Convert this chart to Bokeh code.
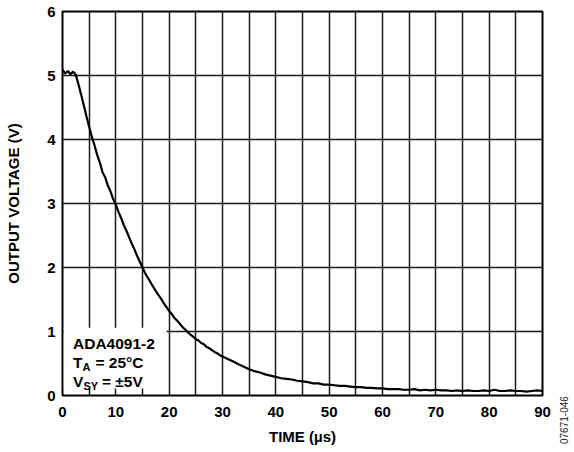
from bokeh.plotting import figure
from bokeh.models import Range1d, FixedTicker, Label, BoxAnnotation, Div
from bokeh.layouts import row
from bokeh.embed import file_html
from bokeh.resources import INLINE

# ---- data ----
time_us = [0, 0.5, 1, 1.5, 2, 2.5, 3, 3.5, 4, 4.5, 5, 5.5, 6, 6.5, 7, 7.5, 8, 8.5, 9, 9.5,
           10, 10.5, 11, 11.5, 12, 12.5, 13, 13.5, 14, 14.5, 15, 15.5, 16, 16.5, 17, 17.5,
           18, 18.5, 19, 19.5, 20, 20.5, 21, 21.5, 22, 22.5, 23, 23.5, 24, 24.5, 25, 25.5,
           26, 26.5, 27, 27.5, 28, 28.5, 29, 29.5, 30,
           31, 32, 33, 34, 35, 36, 37, 38, 39, 40, 41, 42, 43, 44, 45, 46, 47, 48, 49, 50,
           51, 52, 53, 54, 55, 56, 57, 58, 59, 60, 61, 62, 63, 64, 65, 66, 67, 68, 69, 70,
           71, 72, 73, 74, 75, 76, 77, 78, 79, 80, 81, 82, 83, 84, 85, 86, 87, 88, 89, 90]
output_v = [5.09, 5.03, 5.07, 5.02, 5.06, 5.01, 4.86, 4.70, 4.53, 4.36, 4.20, 4.04, 3.91, 3.76,
            3.64, 3.49, 3.41, 3.28, 3.19, 3.07, 2.98, 2.87, 2.77, 2.66, 2.57, 2.47, 2.37, 2.28,
            2.18, 2.09, 2.00, 1.91, 1.84, 1.77, 1.70, 1.63, 1.57, 1.51, 1.44, 1.38, 1.32, 1.27,
            1.21, 1.17, 1.12, 1.07, 1.03, 0.99, 0.95, 0.92, 0.88, 0.86, 0.82, 0.80, 0.76, 0.74,
            0.71, 0.68, 0.66, 0.63, 0.61,
            0.57, 0.53, 0.49, 0.45, 0.41, 0.38, 0.36, 0.33, 0.31, 0.29, 0.27, 0.26, 0.25, 0.23,
            0.22, 0.21, 0.19, 0.19, 0.17, 0.17, 0.16, 0.15, 0.15, 0.14, 0.13, 0.13, 0.12, 0.12,
            0.11, 0.11, 0.10, 0.10, 0.10, 0.09, 0.09, 0.10, 0.08, 0.09, 0.08, 0.09, 0.08, 0.08,
            0.07, 0.08, 0.07, 0.08, 0.07, 0.07, 0.08, 0.07, 0.09, 0.07, 0.07, 0.08, 0.07, 0.07,
            0.06, 0.07, 0.08, 0.07, 0.07, 0.06]
x_ticks = [0, 10, 20, 30, 40, 50, 60, 70, 80, 90]
x_grid = [0, 5, 10, 15, 20, 25, 30, 35, 40, 45, 50, 55, 60, 65, 70, 75, 80, 85, 90]
y_ticks = [0, 1, 2, 3, 4, 5, 6]
x_title = "TIME (µs)"
y_title = "OUTPUT VOLTAGE (V)"
fig_code = "07671-046"
FONT = "Liberation Sans"

p = figure(width=552, height=452, x_range=Range1d(0, 90), y_range=Range1d(0, 6),
           output_backend="svg", toolbar_location=None,
           min_border_left=62, min_border_right=10, min_border_top=11, min_border_bottom=57)
p.background_fill_color = "white"
p.border_fill_color = "white"
p.outline_line_color = "black"
p.outline_line_width = 2

for ax, ticks in ((p.xaxis, x_ticks), (p.yaxis, y_ticks)):
    ax.ticker = FixedTicker(ticks=ticks)
    ax.axis_line_color = None
    ax.major_tick_line_color = None
    ax.minor_tick_line_color = None
    ax.major_tick_out = 0
    ax.major_tick_in = 0
    ax.major_label_text_font = FONT
    ax.major_label_text_font_style = "bold"
    ax.major_label_text_font_size = "15px"
    ax.major_label_text_color = "black"
    ax.axis_label_text_font = FONT
    ax.axis_label_text_font_style = "bold"
    ax.axis_label_text_font_size = "15px"
    ax.axis_label_text_color = "black"

p.xaxis.axis_label = x_title
p.yaxis.axis_label = y_title
p.xaxis.major_label_standoff = 11
p.xaxis.axis_label_standoff = 8
p.yaxis.major_label_standoff = 7
p.yaxis.axis_label_standoff = 22

p.xgrid.ticker = FixedTicker(ticks=x_grid)
p.ygrid.ticker = FixedTicker(ticks=y_ticks)
for g in (p.xgrid, p.ygrid):
    g.grid_line_color = "#1a1a1a"
    g.grid_line_width = 1.5

# white box behind the annotation text
box = BoxAnnotation(left=0.25, right=19.5, bottom=0.11, top=1.06,
                    fill_color="white", fill_alpha=1.0, line_color=None, level="underlay")
p.add_layout(box)

p.line(time_us, output_v, line_color="black", line_width=2.2)

# annotation text
ax0, l1, l2, l3 = 1.97, 0.805, 0.508, 0.211
def lab(x_off, y, text, size="15.5px", y_off=0):
    p.add_layout(Label(x=ax0, y=y, x_offset=x_off, y_offset=y_off, text=text,
                       text_font=FONT, text_font_style="bold", text_font_size=size,
                       text_color="black", text_baseline="alphabetic"))
lab(0, l1, "ADA4091-2")
lab(0, l2, "T")
lab(9.5, l2, "A", size="11px", y_off=-4)
lab(22.5, l2, "= 25°C")
lab(0, l3, "V")
lab(10.5, l3, "SY", size="11px", y_off=-4)
lab(29, l3, "= ±5V")

# figure code, vertical, in the right margin
code_div = Div(
    text=('<div style="position:relative;width:22px;height:452px;">'
          '<div style="position:absolute;left:7px;top:444px;transform:rotate(-90deg);'
          'transform-origin:left top;white-space:nowrap;font-family:\'Liberation Sans\';'
          'font-size:10px;line-height:11px;color:#222;">' + fig_code + '</div></div>'),
    width=22, height=452, margin=0)

layout = row(p, code_div, spacing=0)
open("out.html", "w").write(file_html(layout, INLINE))
